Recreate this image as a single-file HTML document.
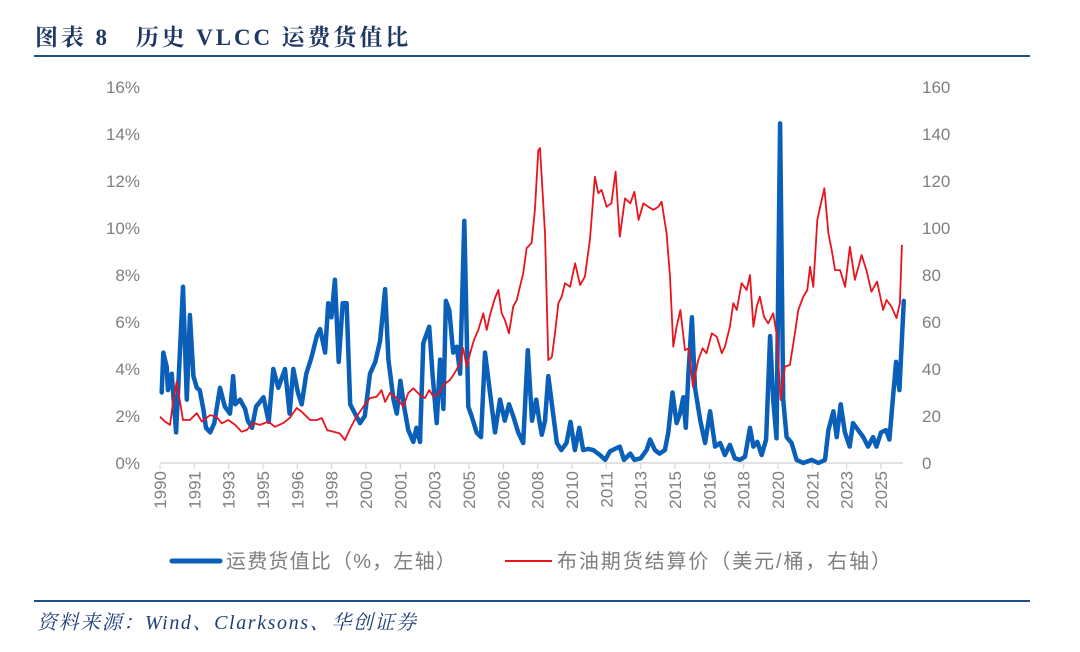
<!DOCTYPE html>
<html><head><meta charset="utf-8"><style>
html,body{margin:0;padding:0;background:#fff;}
body{width:1080px;height:647px;overflow:hidden;position:relative;font-family:"Liberation Sans","Noto Sans CJK SC",sans-serif;}
</style></head><body>
<svg width="1080" height="647" viewBox="0 0 1080 647" xmlns="http://www.w3.org/2000/svg">
<text x="35" y="45" font-family="Liberation Serif,'Noto Serif CJK SC',serif" font-weight="bold" font-size="23" letter-spacing="2.9" fill="#1f3864">图表 8　历史 VLCC 运费货值比</text>
<line x1="34" y1="56" x2="1030" y2="56" stroke="#1f4e8c" stroke-width="2"/>
<g id="axes"></g>
<g id="series"></g>
<g>
<line x1="172" y1="561" x2="220" y2="561" stroke="#0a5fb8" stroke-width="5" stroke-linecap="round"/>
<text x="226" y="568" font-size="20" letter-spacing="1.2" fill="#7f7f7f" font-family="'Liberation Sans','Noto Sans CJK SC',sans-serif">运费货值比（%，左轴）</text>
<line x1="505" y1="561" x2="552" y2="561" stroke="#e8141e" stroke-width="2"/>
<text x="557" y="568" font-size="20" letter-spacing="1.9" fill="#7f7f7f" font-family="'Liberation Sans','Noto Sans CJK SC',sans-serif">布油期货结算价（美元/桶，右轴）</text>
</g>
<line x1="34" y1="601" x2="1030" y2="601" stroke="#1f4e8c" stroke-width="2"/>
<text x="37" y="629" font-family="Liberation Serif,'Noto Serif CJK SC',serif" font-style="italic" font-size="20" letter-spacing="1.6" fill="#1f3f7a">资料来源：Wind、Clarksons、华创证券</text>
</svg>
<script>
const ratioYears=[1990.08,1990.16,1990.32,1990.38,1990.56,1990.77,1991.1,1991.28,1991.43,1991.6,1991.76,1991.9,1992.07,1992.2,1992.4,1992.6,1992.87,1993.1,1993.35,1993.5,1993.6,1993.83,1994.07,1994.2,1994.4,1994.6,1994.78,1994.95,1995.2,1995.42,1995.66,1995.98,1996.2,1996.38,1996.6,1996.78,1997.0,1997.25,1997.5,1997.66,1997.9,1998.05,1998.2,1998.37,1998.55,1998.74,1998.93,1999.1,1999.33,1999.57,1999.8,2000.05,2000.3,2000.53,2000.77,2000.93,2001.17,2001.33,2001.5,2001.7,2001.88,2002.12,2002.27,2002.44,2002.6,2002.76,2002.88,2003.04,2003.24,2003.4,2003.56,2003.68,2003.84,2004.03,2004.2,2004.36,2004.56,2004.75,2004.91,2005.15,2005.36,2005.55,2005.79,2006.03,2006.27,2006.5,2006.7,2006.9,2007.14,2007.38,2007.6,2007.8,2008.0,2008.15,2008.27,2008.42,2008.58,2008.75,2008.99,2009.2,2009.45,2009.64,2009.85,2010.06,2010.25,2010.5,2010.73,2011.05,2011.3,2011.53,2011.77,2012.0,2012.2,2012.5,2012.7,2013.0,2013.28,2013.45,2013.68,2013.9,2014.16,2014.32,2014.52,2014.72,2014.88,2015.04,2015.16,2015.28,2015.45,2015.6,2015.85,2016.08,2016.32,2016.56,2016.8,2017.03,2017.27,2017.5,2017.75,2017.99,2018.23,2018.39,2018.58,2018.79,2019.0,2019.19,2019.34,2019.5,2019.67,2019.82,2019.98,2020.22,2020.46,2020.78,2021.18,2021.5,2021.82,2021.98,2022.22,2022.38,2022.57,2022.77,2023.0,2023.16,2023.4,2023.65,2023.88,2024.12,2024.28,2024.5,2024.74,2024.9,2025.06,2025.22,2025.38,2025.59];
const ratioValues=[3.0,4.7,4.1,3.1,3.8,1.3,7.5,2.7,6.3,3.7,3.2,3.1,2.3,1.5,1.3,1.7,3.2,2.4,2.1,3.7,2.5,2.7,2.3,1.8,1.5,2.4,2.6,2.8,1.75,4.0,3.2,4.0,2.1,4.0,3.0,2.5,3.8,4.5,5.4,5.7,4.7,6.8,6.2,7.8,4.3,6.8,6.8,2.5,2.1,1.7,2.0,3.8,4.3,5.2,7.4,4.4,2.7,2.1,3.5,2.3,1.4,0.9,1.5,0.9,5.1,5.5,5.8,3.8,1.7,4.4,2.3,6.9,6.5,4.7,4.95,3.8,10.3,2.4,2.0,1.3,1.1,4.7,3.0,1.3,2.7,1.8,2.5,2.0,1.3,0.85,4.8,1.8,2.7,1.8,1.2,1.8,3.7,2.5,0.85,0.55,0.85,1.75,0.55,1.5,0.55,0.6,0.55,0.34,0.13,0.5,0.6,0.7,0.13,0.4,0.13,0.2,0.55,1.0,0.55,0.4,0.55,1.3,3.0,1.7,2.1,2.8,1.5,3.8,6.2,3.2,1.8,0.85,2.2,0.7,0.85,0.34,0.77,0.2,0.13,0.27,1.5,0.7,0.9,0.34,1.0,5.4,2.7,1.05,14.45,2.7,1.1,0.85,0.13,0,0.13,0,0.13,1.4,2.2,1.1,2.5,1.3,0.7,1.7,1.4,1.1,0.7,1.1,0.7,1.3,1.4,1.0,2.7,4.3,3.1,6.9];
const brentYears=[1990.0,1990.24,1990.48,1990.64,1990.8,1991.1,1991.43,1991.76,1992.0,1992.4,1992.7,1992.95,1993.27,1993.6,1993.9,1994.15,1994.46,1994.78,1995.18,1995.5,1995.9,1996.2,1996.54,1996.78,1997.18,1997.5,1997.74,1998.0,1998.3,1998.6,1998.85,1999.1,1999.4,1999.73,2000.05,2000.37,2000.6,2000.77,2001.0,2001.33,2001.64,2001.88,2002.12,2002.44,2002.68,2002.88,2003.08,2003.36,2003.56,2003.87,2004.1,2004.36,2004.5,2004.68,2004.84,2005.02,2005.23,2005.47,2005.63,2005.79,2006.03,2006.19,2006.35,2006.5,2006.7,2006.9,2007.07,2007.22,2007.38,2007.54,2007.78,2007.94,2008.1,2008.18,2008.42,2008.58,2008.75,2008.9,2009.06,2009.22,2009.38,2009.62,2009.86,2010.1,2010.33,2010.57,2010.81,2010.97,2011.13,2011.37,2011.6,2011.8,2012.0,2012.25,2012.5,2012.7,2012.9,2013.13,2013.37,2013.61,2013.84,2014.0,2014.24,2014.4,2014.56,2014.72,2014.9,2015.12,2015.3,2015.5,2015.75,2015.96,2016.15,2016.4,2016.64,2016.88,2017.03,2017.27,2017.43,2017.6,2017.83,2018.07,2018.23,2018.39,2018.55,2018.7,2018.9,2019.1,2019.34,2019.5,2019.7,2019.9,2020.14,2020.38,2020.54,2020.78,2020.97,2021.1,2021.26,2021.45,2021.66,2021.79,2021.98,2022.14,2022.3,2022.54,2022.78,2023.01,2023.25,2023.57,2023.8,2024.04,2024.31,2024.6,2024.76,2025.0,2025.24,2025.4,2025.5];
const brentValues=[19.7,17.6,16.2,26.8,34.6,18.3,18.3,21.2,17.6,20.4,19.7,16.9,18.3,16.2,13.3,14.0,17,16.2,17.6,15.4,17,19.1,23.4,21.8,18.3,18.3,19.1,14,13.3,12.6,9.8,14.7,19.7,24,27.6,28.2,31,26,29.8,27.6,24,29.8,31.8,28.9,27.6,31,28.2,29.8,33.2,35.3,38.3,42.6,48.9,41,46.8,52.3,56.6,63.7,56.6,63,70.2,73.6,63.7,60.9,55.2,66.5,69.4,75,80.7,91.4,93.6,107.7,133,134,97.7,43.8,45.2,55.2,68,70.8,76.5,75,85,75.7,79.3,94.9,121.8,114.8,116.2,109,110.5,124,96.3,112.6,110.5,115.4,103.4,110.5,109,107.7,109,111.2,97.7,79.3,49.5,58,65.1,48,48.8,32.5,43.8,48.8,46.7,55.2,53.7,46.7,49.5,58,68,65.1,76.5,73.6,80,58,66.5,70.8,62.3,59.4,63.7,55.2,26.8,41,41.7,55.2,65.1,70.8,73.6,83.5,75,103.4,112,116.9,97.7,90.6,82.1,82.1,75,92,77.9,88.5,82.1,72.9,77.2,65.1,69.4,66.5,61.6,68,92.8];
const leftTicks=[0,2,4,6,8,10,12,14,16];
const rightTicks=[0,20,40,60,80,100,120,140,160];
const xTickLabels=["1990","1991","1993","1995","1996","1998","2000","2001","2003","2005","2006","2008","2010","2011","2013","2015","2016","2018","2020","2021","2023","2025"];

const NS="http://www.w3.org/2000/svg";
const X0=160,PXY=20.9,Y0=463,YTOP=87;
const xS=y=>X0+(y-1990)*PXY;
const yL=v=>Y0-(v/16)*(Y0-YTOP);
const yR=v=>Y0-(v/160)*(Y0-YTOP);
function mk(tag,at,parent,txt){const e=document.createElementNS(NS,tag);for(const k in at)e.setAttribute(k,at[k]);if(txt!=null)e.textContent=txt;parent.appendChild(e);return e;}
const axes=document.getElementById('axes'),series=document.getElementById('series');
const axLine=mk('line',{x1:X0,y1:Y0,x2:903,y2:Y0,stroke:'#d9d9d9','stroke-width':1.5},axes);


leftTicks.forEach(v=>{const t=mk('text',{x:140,y:yL(v)+6,'text-anchor':'end','font-size':17,fill:'#7f7f7f'},axes,v+'%');

});
rightTicks.forEach(v=>{const t=mk('text',{x:922,y:yR(v)+6,'text-anchor':'start','font-size':17,fill:'#7f7f7f'},axes,String(v));

});
const step=600/365.25;
xTickLabels.forEach((lab,i)=>{const x=xS(1990+i*step);
const tk=mk('line',{x1:x,y1:Y0,x2:x,y2:Y0+6,stroke:'#d9d9d9','stroke-width':1.2},axes);


const t=mk('text',{x:0,y:0,transform:`translate(${x+6},${Y0+8}) rotate(-90)`,'text-anchor':'end','font-size':17,fill:'#7f7f7f'},axes,lab);

});
const rd=brentYears.map((y,i)=>(i?'L':'M')+xS(y).toFixed(1)+','+yR(brentValues[i]).toFixed(1)).join('');
const rp=mk('path',{d:rd,fill:'none',stroke:'#e8141e','stroke-width':1.8,'stroke-linejoin':'round'},series);


const bd=ratioYears.map((y,i)=>(i?'L':'M')+xS(y).toFixed(1)+','+yL(ratioValues[i]).toFixed(1)).join('');
const bp=mk('path',{d:bd,fill:'none',stroke:'#0a5fb8','stroke-width':4.5,'stroke-linejoin':'round','stroke-linecap':'round'},series);


series.insertBefore(bp,rp);
</script>
</body></html>
